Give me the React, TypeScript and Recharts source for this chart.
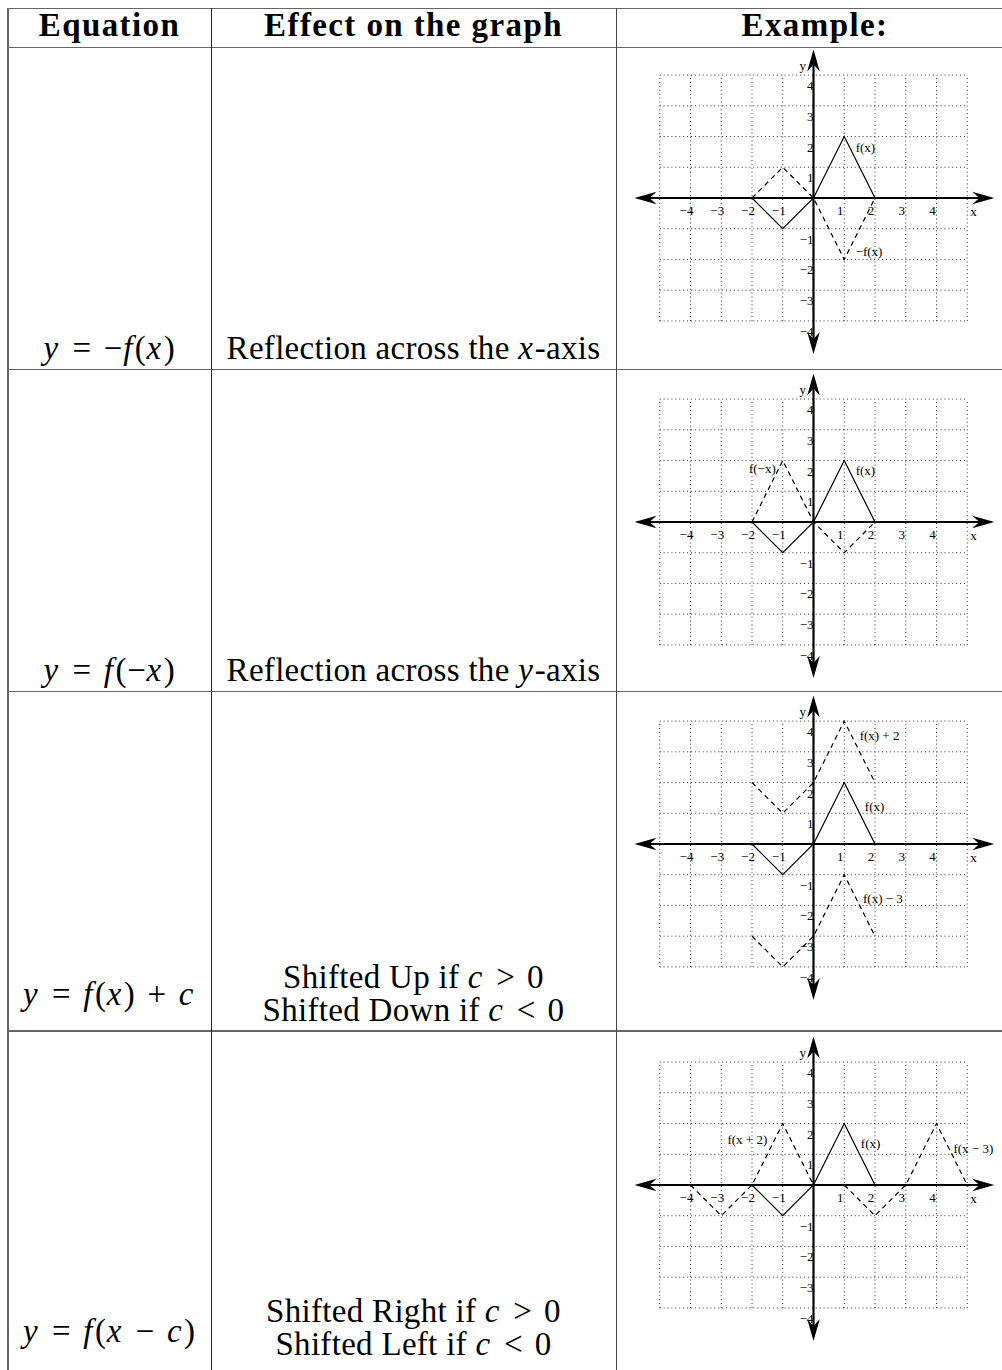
import React from 'react';
import { ComposedChart, Line, Scatter, XAxis, YAxis, ReferenceLine } from 'recharts';

// ---------- data ----------
const gridXs = [-5, -4, -3, -2, -1, 0, 1, 2, 3, 4, 5];
const gridYs = [-4, -3, -2, -1, 0, 1, 2, 3, 4];
const xTickValues = [-4, -3, -2, -1, 1, 2, 3, 4];
const yTickValues = [4, 3, 2, 1, -1, -2, -3, -4];
const xAxisEnds = [{ x: -5.82, y: 0 }, { x: 5.88, y: 0 }];
const yAxisEnds = [{ x: 0, y: -5.08 }, { x: 0, y: 4.83 }];
const axisNames = [
  { x: -0.35, y: 4.28, text: 'y' },
  { x: 5.2, y: -0.45, text: 'x' },
];

const fOfX = [
  { x: -2, y: 0 }, { x: -1, y: -1 }, { x: 0, y: 0 }, { x: 1, y: 2 }, { x: 2, y: 0 },
];
const negFOfX = [
  { x: -2, y: 0 }, { x: -1, y: 1 }, { x: 0, y: 0 }, { x: 1, y: -2 }, { x: 2, y: 0 },
];
const fOfNegX = [
  { x: -2, y: 0 }, { x: -1, y: 2 }, { x: 0, y: 0 }, { x: 1, y: -1 }, { x: 2, y: 0 },
];
const fPlus2 = [
  { x: -2, y: 2 }, { x: -1, y: 1 }, { x: 0, y: 2 }, { x: 1, y: 4 }, { x: 2, y: 2 },
];
const fMinus3 = [
  { x: -2, y: -3 }, { x: -1, y: -4 }, { x: 0, y: -3 }, { x: 1, y: -1 }, { x: 2, y: -3 },
];
const fXPlus2 = [
  { x: -4, y: 0 }, { x: -3, y: -1 }, { x: -2, y: 0 }, { x: -1, y: 2 }, { x: 0, y: 0 },
];
const fXMinus3 = [
  { x: 1, y: 0 }, { x: 2, y: -1 }, { x: 3, y: 0 }, { x: 4, y: 2 }, { x: 5, y: 0 },
];

const labels1 = [
  { x: 1.37, y: 1.63, text: 'f(x)' },
  { x: 1.37, y: -1.76, text: '\u2212f(x)' },
];
const labels2 = [
  { x: -2.1, y: 1.73, text: 'f(\u2212x)' },
  { x: 1.37, y: 1.65, text: 'f(x)' },
];
const labels3 = [
  { x: 1.5, y: 3.52, text: 'f(x) + 2' },
  { x: 1.67, y: 1.2, text: 'f(x)' },
  { x: 1.61, y: -1.79, text: 'f(x) \u2212 3' },
];
const labels4 = [
  { x: -2.8, y: 1.46, text: 'f(x + 2)' },
  { x: 1.54, y: 1.33, text: 'f(x)' },
  { x: 4.55, y: 1.17, text: 'f(x \u2212 3)' },
];

const headers = ['Equation', 'Effect on the graph', 'Example:'];

// ---------- styles ----------
const SERIF = '"Liberation Serif", "Times New Roman", serif';
const CHART_W = 369;
const CHART_H = 338;
const CHART_LEFT = 629;
const TEXT_SIZE = 33;
const ASC = 27.6; // baseline offset inside a 33px line box
const LABEL_SIZE = 13;

const fmtNum = (v: number) => (v < 0 ? '\u2212' + Math.abs(v) : String(v));
const xTickData = xTickValues.map((v) => ({ x: v, y: 0, text: fmtNum(v) }));
const yTickData = yTickValues.map((v) => ({ x: 0, y: v, text: fmtNum(v) }));

function arrowHead(tx: number, ty: number, ux: number, uy: number) {
  const L = 22;
  const W = 6.3;
  const N = 15;
  const px = -uy;
  const py = ux;
  const pts = [
    [tx, ty],
    [tx - ux * L + px * W, ty - uy * L + py * W],
    [tx - ux * N, ty - uy * N],
    [tx - ux * L - px * W, ty - uy * L - py * W],
  ];
  return <polygon points={pts.map((p) => p.join(',')).join(' ')} fill="#000" stroke="none" />;
}

const ArrowAxis = (p: any) => {
  const x1 = Number(p.x1);
  const y1 = Number(p.y1);
  const x2 = Number(p.x2);
  const y2 = Number(p.y2);
  const len = Math.hypot(x2 - x1, y2 - y1) || 1;
  const ux = (x2 - x1) / len;
  const uy = (y2 - y1) / len;
  return (
    <g>
      <line
        x1={x1 + ux * 10}
        y1={y1 + uy * 10}
        x2={x2 - ux * 10}
        y2={y2 - uy * 10}
        stroke="#000"
        strokeWidth={2.2}
      />
      {arrowHead(x2, y2, ux, uy)}
      {arrowHead(x1, y1, -ux, -uy)}
    </g>
  );
};

const XTickShape = (p: any) => (
  <text x={p.cx - 4} y={p.cy + 17} textAnchor="middle" fontSize={LABEL_SIZE} fontFamily={SERIF} fill="#000">
    {p.payload.text}
  </text>
);
const YTickShape = (p: any) => (
  <text x={p.cx} y={p.cy + 15} textAnchor="end" fontSize={LABEL_SIZE} fontFamily={SERIF} fill="#000">
    {p.payload.text}
  </text>
);
const CurveLabelShape = (p: any) => (
  <text x={p.cx} y={p.cy + 4} textAnchor="start" fontSize={LABEL_SIZE} fontFamily={SERIF} fill="#000">
    {p.payload.text}
  </text>
);
const AxisNameShape = (p: any) => (
  <text x={p.cx} y={p.cy + 4} textAnchor="middle" fontSize={LABEL_SIZE} fontFamily={SERIF} fill="#000">
    {p.payload.text}
  </text>
);

function Graph({ top, solid, dashed, labels }: { top: number; solid: any[]; dashed: any[][]; labels: any[] }) {
  return (
    <div style={{ position: 'absolute', left: CHART_LEFT, top, width: CHART_W, height: CHART_H }}>
      <ComposedChart
        width={CHART_W}
        height={CHART_H}
        margin={{ top: 0, right: 0, bottom: 0, left: 0 }}
        style={{ overflow: 'visible' }}
      >
        <XAxis type="number" dataKey="x" domain={[-6, 6]} allowDataOverflow hide />
        <YAxis type="number" dataKey="y" domain={[-5.5, 5.5]} allowDataOverflow hide />
        {gridXs.map((v) => (
          <ReferenceLine
            key={'gx' + v}
            segment={[{ x: v, y: -4 }, { x: v, y: 4 }]}
            stroke="#333"
            strokeWidth={1}
            strokeDasharray="1 2.9"
          />
        ))}
        {gridYs.map((v) => (
          <ReferenceLine
            key={'gy' + v}
            segment={[{ x: -5, y: v }, { x: 5, y: v }]}
            stroke="#333"
            strokeWidth={1}
            strokeDasharray="1 2.9"
          />
        ))}
        <ReferenceLine segment={xAxisEnds} shape={ArrowAxis} />
        <ReferenceLine segment={yAxisEnds} shape={ArrowAxis} />
        <Line
          data={solid}
          dataKey="y"
          type="linear"
          stroke="#000"
          strokeWidth={1.2}
          dot={false}
          activeDot={false}
          isAnimationActive={false}
        />
        {dashed.map((d, i) => (
          <Line
            key={'d' + i}
            data={d}
            dataKey="y"
            type="linear"
            stroke="#000"
            strokeWidth={1.2}
            strokeDasharray="5 4"
            dot={false}
            activeDot={false}
            isAnimationActive={false}
          />
        ))}
        <Scatter data={xTickData} dataKey="y" shape={XTickShape} isAnimationActive={false} />
        <Scatter data={yTickData} dataKey="y" shape={YTickShape} isAnimationActive={false} />
        <Scatter data={axisNames} dataKey="y" shape={AxisNameShape} isAnimationActive={false} />
        <Scatter data={labels} dataKey="y" shape={CurveLabelShape} isAnimationActive={false} />
      </ComposedChart>
    </div>
  );
}

const M = ({ children }: { children: React.ReactNode }) => (
  <i style={{ marginRight: '0.05em' }}>{children}</i>
);
const Op = ({ children }: { children: React.ReactNode }) => (
  <span style={{ margin: '0 0.36em' }}>{children}</span>
);

function TextLine({ left, width, baseline, children, bold, math }: any) {
  return (
    <div
      style={{
        position: 'absolute',
        left,
        width,
        top: baseline - ASC,
        height: TEXT_SIZE,
        lineHeight: TEXT_SIZE + 'px',
        fontSize: TEXT_SIZE,
        fontFamily: SERIF,
        fontWeight: bold ? 'bold' : 'normal',
        letterSpacing: bold ? '1.4px' : math ? '0.8px' : '0.3px',
        textAlign: 'center',
        whiteSpace: 'nowrap',
        color: '#000',
      }}
    >
      {children}
    </div>
  );
}

const COL1 = { left: 8, width: 203 };
const COL2 = { left: 211, width: 405 };
const COL3 = { left: 616, width: 398 };

const hLines = [7.5, 46.5, 368.5, 690.5, 1030];
const vLines = [
  { x: 7, w: 1.6, c: '#666' },
  { x: 210.5, w: 1, c: '#222' },
  { x: 615.5, w: 1.2, c: '#444' },
];

export default function App() {
  return (
    <div
      style={{
        position: 'absolute',
        left: 0,
        top: 0,
        width: 1002,
        height: 1370,
        background: '#fff',
        overflow: 'hidden',
      }}
    >
      {hLines.map((y, i) => (
        <div
          key={'h' + i}
          style={{ position: 'absolute', left: 7, top: y, width: 1002 - 7, height: 1.5, background: '#666' }}
        />
      ))}
      {vLines.map((v, i) => (
        <div
          key={'v' + i}
          style={{ position: 'absolute', left: v.x, top: 7.5, width: v.w, height: 1370, background: v.c }}
        />
      ))}

      <TextLine {...COL1} baseline={37} bold>{headers[0]}</TextLine>
      <TextLine {...COL2} baseline={37} bold>{headers[1]}</TextLine>
      <TextLine {...COL3} baseline={37} bold>{headers[2]}</TextLine>

      <Graph top={29} solid={fOfX} dashed={[negFOfX]} labels={labels1} />
      <TextLine {...COL1} baseline={360} math>
        <M>y</M><Op>=</Op>{'\u2212'}<M>f</M>(<M>x</M>)
      </TextLine>
      <TextLine {...COL2} baseline={360}>
        Reflection across the <M>x</M>-axis
      </TextLine>

      <Graph top={353} solid={fOfX} dashed={[fOfNegX]} labels={labels2} />
      <TextLine {...COL1} baseline={682} math>
        <M>y</M><Op>=</Op><M>f</M>({'\u2212'}<M>x</M>)
      </TextLine>
      <TextLine {...COL2} baseline={682}>
        Reflection across the <M>y</M>-axis
      </TextLine>

      <Graph top={675} solid={fOfX} dashed={[fPlus2, fMinus3]} labels={labels3} />
      <TextLine {...COL1} baseline={1006} math>
        <M>y</M><Op>=</Op><M>f</M>(<M>x</M>)<Op>+</Op><M>c</M>
      </TextLine>
      <TextLine {...COL2} baseline={989}>
        Shifted Up if <M>c</M><Op>&gt;</Op>0
      </TextLine>
      <TextLine {...COL2} baseline={1022}>
        Shifted Down if <M>c</M><Op>&lt;</Op>0
      </TextLine>

      <Graph top={1016} solid={fOfX} dashed={[fXPlus2, fXMinus3]} labels={labels4} />
      <TextLine {...COL1} baseline={1343} math>
        <M>y</M><Op>=</Op><M>f</M>(<M>x</M><Op>{'\u2212'}</Op><M>c</M>)
      </TextLine>
      <TextLine {...COL2} baseline={1323}>
        Shifted Right if <M>c</M><Op>&gt;</Op>0
      </TextLine>
      <TextLine {...COL2} baseline={1356}>
        Shifted Left if <M>c</M><Op>&lt;</Op>0
      </TextLine>
    </div>
  );
}
